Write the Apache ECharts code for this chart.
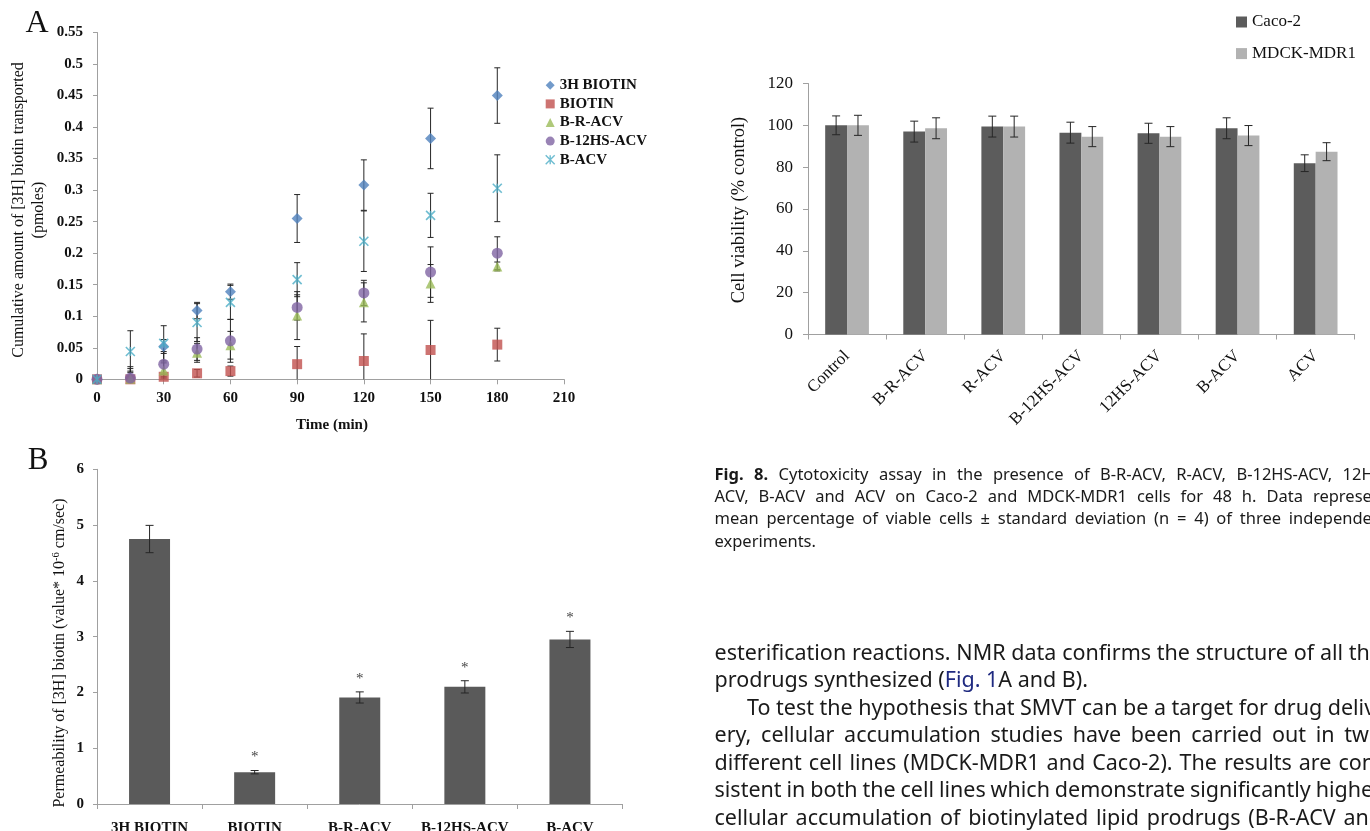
<!DOCTYPE html>
<html>
<head>
<meta charset="utf-8">
<script src="https://cdn.jsdelivr.net/npm/echarts@6/dist/echarts.min.js"></script>
<style>
  html, body { margin: 0; padding: 0; background: #fff; }
  #main { width: 1370px; height: 831px; }
</style>
</head>
<body>
<div id="main"></div>
<script>
// ---------- Panel A: cumulative [3H] biotin transported (pmoles) vs time ----------
const timePoints   = [0, 15, 30, 45, 60, 90, 120, 150, 180];
const h3Biotin     = [0, 0.002, 0.052, 0.109, 0.139, 0.255, 0.308, 0.382, 0.450];
const h3BiotinErr  = [0, 0.018, 0.011, 0.013, 0.012, 0.038, 0.040, 0.048, 0.044];
const biotin       = [0, 0, 0.004, 0.0095, 0.013, 0.024, 0.029, 0.0465, 0.055];
const biotinErr    = [0, 0.005, 0.004, 0.006, 0.008, 0.028, 0.043, 0.047, 0.026];
const bRAcv        = [0, 0.001, 0.014, 0.042, 0.054, 0.101, 0.122, 0.152, 0.179];
const bRAcvErr     = [0, 0.012, 0.012, 0.015, 0.022, 0.038, 0.031, 0.030, 0.007];
const b12hsAcv     = [0, 0.002, 0.024, 0.048, 0.061, 0.114, 0.137, 0.170, 0.200];
const b12hsAcvErr  = [0, 0.015, 0.020, 0.018, 0.034, 0.020, 0.020, 0.040, 0.026];
const bAcv         = [0, 0.044, 0.057, 0.090, 0.122, 0.158, 0.219, 0.260, 0.303];
const bAcvErr      = [0, 0.033, 0.028, 0.030, 0.027, 0.027, 0.048, 0.035, 0.053];
const transportNames = ['3H BIOTIN', 'BIOTIN', 'B-R-ACV', 'B-12HS-ACV', 'B-ACV'];

// ---------- Panel B: permeability (value * 10^-6 cm/sec) ----------
const permCategories = ['3H BIOTIN', 'BIOTIN', 'B-R-ACV', 'B-12HS-ACV', 'B-ACV'];
const permValues     = [4.75, 0.57, 1.91, 2.10, 2.95];
const permErr        = [0.245, 0.03, 0.10, 0.11, 0.145];
const permSignif     = ['', '*', '*', '*', '*'];

// ---------- Fig. 8: cell viability (% control) ----------
const viabCategories = ['Control', 'B-R-ACV', 'R-ACV', 'B-12HS-ACV', '12HS-ACV', 'B-ACV', 'ACV'];
const caco2    = [100, 97.0, 99.4, 96.5, 96.2, 98.6, 81.9];
const caco2Err = [4.5, 5.0, 5.0, 5.0, 4.8, 5.0, 4.0];
const mdck     = [100, 98.6, 99.4, 94.6, 94.6, 95.1, 87.4];
const mdckErr  = [4.8, 5.0, 5.0, 4.8, 4.8, 4.8, 4.3];
const viabNames = ['Caco-2', 'MDCK-MDR1'];

// ---------- Page text ----------
const captionLead = 'Fig. 8.';
const captionLines = [
  'Cytotoxicity assay in the presence of B-R-ACV, R-ACV, B-12HS-ACV, 12HS-',
  'ACV, B-ACV and ACV on Caco-2 and MDCK-MDR1 cells for 48 h. Data represent',
  'mean percentage of viable cells \u00b1 standard deviation (n = 4) of three independent',
  'experiments.'
];
const bodyLines = [
  'esterification reactions. NMR data confirms the structure of all the',
  'prodrugs synthesized ({link|Fig. 1}A and B).',
  'To test the hypothesis that SMVT can be a target for drug deliv-',
  'ery, cellular accumulation studies have been carried out in two',
  'different cell lines (MDCK-MDR1 and Caco-2). The results are con-',
  'sistent in both the cell lines which demonstrate significantly higher',
  'cellular accumulation of biotinylated lipid prodrugs (B-R-ACV and'
];

const SERIF = '"Liberation Serif", "Times New Roman", serif';
const SANS = '"Noto Sans", "Open Sans", sans-serif';
const AXIS_GREY = '#a0a0a0';
const ERR_COLOR = '#262626';

const chart = echarts.init(document.getElementById('main'), null, { renderer: 'canvas' });

// ---- error bars on value axes (panel A) ----
function errValueItem(params, api) {
  const x = api.value(0), y = api.value(1), e = api.value(2);
  if (!e) return null;
  const lo = Math.max(0, y - e);
  const top = api.coord([x, y + e]);
  const bot = api.coord([x, lo]);
  const cap = 3;
  const st = { stroke: ERR_COLOR, lineWidth: 1 };
  const kids = [
    { type: 'line', shape: { x1: top[0], y1: top[1], x2: bot[0], y2: bot[1] }, style: st },
    { type: 'line', shape: { x1: top[0] - cap, y1: top[1], x2: top[0] + cap, y2: top[1] }, style: st }
  ];
  if (lo > 0) kids.push({ type: 'line', shape: { x1: bot[0] - cap, y1: bot[1], x2: bot[0] + cap, y2: bot[1] }, style: st });
  return { type: 'group', children: kids };
}

// ---- error bars on grouped category bars (panel B and Fig. 8) ----
function groupedErr(nSeries, catGap, cap, flags) {
  return function (params, api) {
    const idx = api.value(0), v = api.value(1), e = api.value(2), k = api.value(3);
    const band = api.size([1, 0])[0];
    const barW = band * (1 - catGap) / nSeries;
    const off = (k - (nSeries - 1) / 2) * barW;
    const top = api.coord([idx, v + e]);
    const bot = api.coord([idx, v - e]);
    const x = top[0] + off;
    const st = { stroke: ERR_COLOR, lineWidth: 1 };
    const kids = [
      { type: 'line', shape: { x1: x, y1: top[1], x2: x, y2: bot[1] }, style: st },
      { type: 'line', shape: { x1: x - cap, y1: top[1], x2: x + cap, y2: top[1] }, style: st },
      { type: 'line', shape: { x1: x - cap, y1: bot[1], x2: x + cap, y2: bot[1] }, style: st }
    ];
    if (flags && flags[params.dataIndex]) {
      kids.push({
        type: 'text', x: x, y: top[1] - 13,
        style: { text: flags[params.dataIndex], fontFamily: SERIF, fontSize: 15, fill: '#444', align: 'center', verticalAlign: 'middle' }
      });
    }
    return { type: 'group', children: kids };
  };
}

const markerColors = ['#4F81BD', '#C0504D', '#9BBB59', '#8064A2', '#4BACC6'];
const markerSymbols = ['diamond', 'rect', 'triangle', 'circle', 'path://M0,0L10,10M10,0L0,10M5,0L5,10'];
const markerSizes = [11, 10, 10, 11, 9];
const transportValues = [h3Biotin, biotin, bRAcv, b12hsAcv, bAcv];
const transportErrs = [h3BiotinErr, biotinErr, bRAcvErr, b12hsAcvErr, bAcvErr];

const errAData = [];
transportValues.forEach((vals, s) => {
  vals.forEach((v, i) => errAData.push([timePoints[i], v, transportErrs[s][i]]));
});

const scatterSeries = transportNames.map((name, s) => ({
  name: name,
  type: 'scatter',
  xAxisIndex: 0, yAxisIndex: 0,
  symbol: markerSymbols[s],
  symbolSize: markerSizes[s],
  itemStyle: s === 4
    ? { color: markerColors[s], borderColor: markerColors[s], borderWidth: 1.6 }
    : { color: markerColors[s] },
  z: 3,
  data: transportValues[s].map((v, i) => [timePoints[i], v])
}));

const errBData = permValues.map((v, i) => [i, v, permErr[i], 0]);
const errCData = [];
caco2.forEach((v, i) => errCData.push([i, v, caco2Err[i], 0]));
mdck.forEach((v, i) => errCData.push([i, v, mdckErr[i], 1]));

// ---- page text laid out as justified column lines ----
const measureCtx = document.createElement('canvas').getContext('2d');
function textWidth(str, size, weight) {
  measureCtx.font = (weight || 'normal') + ' ' + size + 'px ' + SANS;
  return measureCtx.measureText(str).width;
}
function justifiedLine(tokens, x0, x1, y, size, justify) {
  const widths = tokens.map(tk => textWidth(tk.t, size, tk.w));
  const sum = widths.reduce((a, b) => a + b, 0);
  const space = textWidth(' ', size);
  let gap = space;
  if (justify && tokens.length > 1) gap = Math.max(space * 0.8, (x1 - x0 - sum) / (tokens.length - 1));
  const els = [];
  let x = x0;
  tokens.forEach((tk, i) => {
    els.push({
      type: 'text', x: x, y: y, silent: true,
      style: { text: tk.t, fontFamily: SANS, fontSize: size, fontWeight: tk.w || 'normal', fill: '#1a1a1a', align: 'left', verticalAlign: 'middle' }
    });
    x += widths[i] + gap;
  });
  return els;
}

const COL_LEFT = 714.5, COL_RIGHT = 1382;
const CAPTION_SIZE = 16.5;
const BODY_SIZE = 21.5;
const pageText = [];
captionLines.forEach((line, i) => {
  let tokens = line.split(' ').map(t => ({ t: t }));
  if (i === 0) tokens = captionLead.split(' ').map(t => ({ t: t, w: 'bold' })).concat(tokens);
  pageText.push(...justifiedLine(tokens, COL_LEFT, COL_RIGHT + 6, 475 + i * 22.3, CAPTION_SIZE, i < captionLines.length - 1));
});
bodyLines.forEach((line, i) => {
  const y = 653.5 + i * 27.5;
  if (line.indexOf('{link|') >= 0) {
    pageText.push({
      type: 'text', x: COL_LEFT, y: y, silent: true,
      style: {
        text: line, fontFamily: SANS, fontSize: BODY_SIZE, fill: '#1a1a1a', align: 'left', verticalAlign: 'middle',
        rich: { link: { fontFamily: SANS, fontSize: BODY_SIZE, fill: '#1f2a80' } }
      }
    });
  } else {
    const indent = (i === 2) ? 32.5 : 0;
    pageText.push(...justifiedLine(line.split(' ').map(t => ({ t: t })), COL_LEFT + indent, COL_RIGHT, y, BODY_SIZE, true));
  }
});

const option = {
  animation: false,
  backgroundColor: '#ffffff',
  textStyle: { fontFamily: SERIF },
  grid: [
    { left: 97, top: 32.5, width: 467, height: 346.8, outerBoundsMode: 'none' },
    { left: 97, top: 469.3, width: 525.5, height: 334.7, outerBoundsMode: 'none' },
    { left: 808, top: 83.5, width: 546.7, height: 251, outerBoundsMode: 'none' }
  ],
  legend: [
    {
      orient: 'vertical', left: 545, top: 76, padding: 0,
      itemWidth: 9, itemHeight: 9, itemGap: 0,
      textStyle: { fontFamily: SERIF, fontSize: 15, fontWeight: 'bold', color: '#111', lineHeight: 18.6 },
      data: transportNames.map((n, s) => ({
        name: n, icon: markerSymbols[s],
        itemStyle: s === 4 ? { color: markerColors[s], borderColor: markerColors[s], borderWidth: 1.4 } : { color: markerColors[s] }
      })),
      selectedMode: false
    },
    {
      orient: 'vertical', left: 1236, top: 12, padding: 0,
      itemWidth: 11, itemHeight: 11, itemGap: 11.6, icon: 'rect',
      textStyle: { fontFamily: SERIF, fontSize: 17, color: '#111', lineHeight: 20 },
      data: viabNames,
      selectedMode: false
    }
  ],
  xAxis: [
    {
      gridIndex: 0, type: 'value', min: 0, max: 210, interval: 30,
      axisLine: { lineStyle: { color: AXIS_GREY } },
      axisTick: { show: true, length: 5, lineStyle: { color: AXIS_GREY } },
      axisLabel: { margin: 11, fontFamily: SERIF, fontSize: 15, fontWeight: 'bold', color: '#111' },
      splitLine: { show: false }
    },
    {
      gridIndex: 1, type: 'category', data: permCategories,
      axisLine: { lineStyle: { color: AXIS_GREY } },
      axisTick: { show: true, length: 5, lineStyle: { color: AXIS_GREY } },
      axisLabel: { margin: 17, fontFamily: SERIF, fontSize: 15, fontWeight: 'bold', color: '#111', interval: 0 }
    },
    {
      gridIndex: 2, type: 'category', data: viabCategories,
      axisLine: { lineStyle: { color: AXIS_GREY } },
      axisTick: { show: true, length: 5, lineStyle: { color: AXIS_GREY } },
      axisLabel: { margin: 19, rotate: 45, fontFamily: SERIF, fontSize: 17, color: '#111', interval: 0 }
    }
  ],
  yAxis: [
    {
      gridIndex: 0, type: 'value', min: 0, max: 0.55, interval: 0.05,
      axisLine: { show: true, lineStyle: { color: AXIS_GREY } },
      axisTick: { show: true, length: 4, lineStyle: { color: AXIS_GREY } },
      axisLabel: { margin: 14, fontFamily: SERIF, fontSize: 15, fontWeight: 'bold', color: '#111',
        formatter: v => String(+v.toFixed(2)) },
      splitLine: { show: false }
    },
    {
      gridIndex: 1, type: 'value', min: 0, max: 6, interval: 1,
      axisLine: { show: true, lineStyle: { color: AXIS_GREY } },
      axisTick: { show: true, length: 4, lineStyle: { color: AXIS_GREY } },
      axisLabel: { margin: 13, fontFamily: SERIF, fontSize: 15, fontWeight: 'bold', color: '#111' },
      splitLine: { show: false }
    },
    {
      gridIndex: 2, type: 'value', min: 0, max: 120, interval: 20,
      axisLine: { show: true, lineStyle: { color: AXIS_GREY } },
      axisTick: { show: true, length: 5, lineStyle: { color: AXIS_GREY } },
      axisLabel: { margin: 15, fontFamily: SERIF, fontSize: 17, color: '#111' },
      splitLine: { show: false }
    }
  ],
  series: [
    {
      name: 'transport error', type: 'custom', xAxisIndex: 0, yAxisIndex: 0,
      renderItem: errValueItem, data: errAData, z: 2, silent: true
    },
    ...scatterSeries,
    {
      name: 'Permeability', type: 'bar', xAxisIndex: 1, yAxisIndex: 1,
      barCategoryGap: '61%', itemStyle: { color: '#5a5a5a' },
      data: permValues
    },
    {
      name: 'permeability error', type: 'custom', xAxisIndex: 1, yAxisIndex: 1,
      renderItem: groupedErr(1, 0.61, 4, permSignif), data: errBData, z: 4, silent: true
    },
    {
      name: viabNames[0], type: 'bar', xAxisIndex: 2, yAxisIndex: 2,
      barGap: '0%', barCategoryGap: '44%', itemStyle: { color: '#5c5c5c' },
      data: caco2
    },
    {
      name: viabNames[1], type: 'bar', xAxisIndex: 2, yAxisIndex: 2,
      barGap: '0%', barCategoryGap: '44%', itemStyle: { color: '#b2b2b2' },
      data: mdck
    },
    {
      name: 'viability error', type: 'custom', xAxisIndex: 2, yAxisIndex: 2,
      renderItem: groupedErr(2, 0.44, 4, null), data: errCData, z: 4, silent: true
    }
  ],
  graphic: {
    elements: [
      { type: 'text', x: 37, y: 24, style: { text: 'A', fontFamily: SERIF, fontSize: 32, fill: '#111', align: 'center', verticalAlign: 'middle' } },
      { type: 'text', x: 38, y: 461, style: { text: 'B', fontFamily: SERIF, fontSize: 31, fill: '#111', align: 'center', verticalAlign: 'middle' } },
      { type: 'text', x: 19, y: 210, rotation: Math.PI / 2,
        style: { text: 'Cumulative amount of [3H] biotin transported', fontFamily: SERIF, fontSize: 16, fill: '#111', align: 'center', verticalAlign: 'middle' } },
      { type: 'text', x: 38.5, y: 210, rotation: Math.PI / 2,
        style: { text: '(pmoles)', fontFamily: SERIF, fontSize: 16, fill: '#111', align: 'center', verticalAlign: 'middle' } },
      { type: 'text', x: 332, y: 425,
        style: { text: 'Time (min)', fontFamily: SERIF, fontSize: 15, fontWeight: 'bold', fill: '#111', align: 'center', verticalAlign: 'middle' } },
      { type: 'text', x: 59.5, y: 653, rotation: Math.PI / 2,
        style: {
          text: 'Permeability of [3H] biotin (value* 10{sup|-6} cm/sec)', fontFamily: SERIF, fontSize: 16, fill: '#111',
          align: 'center', verticalAlign: 'middle',
          rich: { sup: { fontFamily: SERIF, fontSize: 10.5, fill: '#111', verticalAlign: 'top', padding: [0, 0, 6, 0] } }
        } },
      { type: 'text', x: 739.5, y: 210, rotation: Math.PI / 2,
        style: { text: 'Cell viability (% control)', fontFamily: SERIF, fontSize: 18.5, fill: '#111', align: 'center', verticalAlign: 'middle' } },
      ...pageText
    ]
  }
};

chart.setOption(option);
</script>
</body>
</html>
